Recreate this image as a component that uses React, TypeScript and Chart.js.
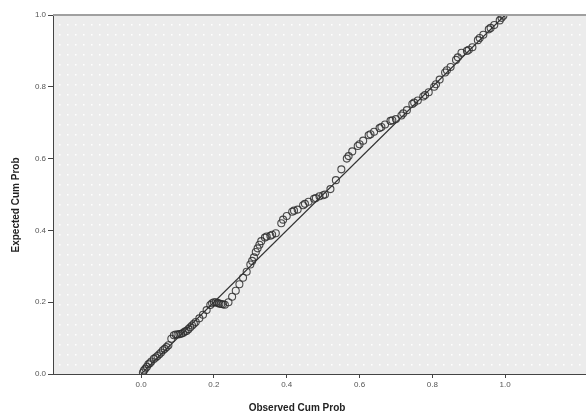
import { useEffect, useRef } from "react";
import { Chart, registerables } from "chart.js";
Chart.register(...registerables);

const observed = [
  0.005, 0.012, 0.02, 0.028, 0.035, 0.045, 0.055, 0.065, 0.075, 0.083,
  0.09, 0.1, 0.11, 0.12, 0.13, 0.14, 0.15, 0.16, 0.17, 0.18,
  0.19, 0.2, 0.21, 0.22, 0.23, 0.24, 0.25, 0.26, 0.27, 0.28,
  0.29, 0.3, 0.31, 0.32, 0.33, 0.34, 0.355, 0.37, 0.385, 0.4,
  0.415, 0.43, 0.445, 0.46, 0.475, 0.49, 0.505, 0.52, 0.535, 0.55,
  0.565, 0.58, 0.595, 0.61, 0.625, 0.64, 0.655, 0.67, 0.685, 0.7,
  0.715, 0.73, 0.745, 0.76, 0.775, 0.79, 0.805, 0.82, 0.835, 0.85,
  0.865, 0.88, 0.895, 0.91, 0.925, 0.94, 0.955, 0.97, 0.985, 0.995,
  0.008, 0.016, 0.024, 0.04, 0.05, 0.06, 0.07, 0.095, 0.105, 0.115,
  0.125, 0.135, 0.145, 0.195, 0.205, 0.215, 0.225, 0.305, 0.315, 0.325,
  0.345, 0.36, 0.39, 0.42, 0.45, 0.48, 0.5, 0.57, 0.6, 0.63,
  0.66, 0.69, 0.72, 0.75, 0.78, 0.81, 0.84, 0.87, 0.9, 0.93,
  0.96, 0.99,
];
const expected = [
  0.004, 0.015, 0.027, 0.035, 0.042, 0.05, 0.06, 0.07, 0.08, 0.098,
  0.108, 0.11, 0.112, 0.118, 0.125, 0.135, 0.145, 0.155, 0.165, 0.178,
  0.192, 0.2, 0.198, 0.195, 0.193, 0.2, 0.215, 0.232, 0.25, 0.268,
  0.285, 0.305, 0.325, 0.35, 0.37, 0.38, 0.385, 0.392, 0.42, 0.44,
  0.452, 0.458, 0.47, 0.48, 0.488, 0.495, 0.5, 0.515, 0.54, 0.57,
  0.6, 0.62, 0.635, 0.65, 0.665, 0.675, 0.685, 0.695, 0.705, 0.71,
  0.72, 0.735, 0.752, 0.762, 0.773, 0.785, 0.8, 0.82, 0.84, 0.855,
  0.875, 0.895, 0.9, 0.91, 0.93, 0.945, 0.96, 0.972, 0.985, 0.998,
  0.01, 0.02, 0.03, 0.046, 0.055, 0.066, 0.075, 0.11, 0.111, 0.114,
  0.12, 0.13, 0.14, 0.197, 0.2, 0.196, 0.194, 0.315, 0.34, 0.36,
  0.383, 0.388, 0.43, 0.455, 0.474, 0.49, 0.498, 0.607, 0.64, 0.668,
  0.688, 0.707, 0.726, 0.756, 0.777, 0.807, 0.846, 0.882, 0.903, 0.936,
  0.964, 0.992,
];
const refLineX = [0, 1];
const refLineY = [0, 1];
const tickValues = [0, 0.2, 0.4, 0.6, 0.8, 1.0];
const tickLabels = ["0.0", "0.2", "0.4", "0.6", "0.8", "1.0"];
const xTitle = "Observed Cum Prob";
const yTitle = "Expected Cum Prob";

function labelFor(v: number) {
  const i = tickValues.findIndex((t) => Math.abs(t - v) < 1e-6);
  return i >= 0 ? tickLabels[i] : "";
}

export default function App() {
  const ref = useRef<HTMLCanvasElement>(null);
  useEffect(() => {
    const canvas = ref.current!;
    const pc = document.createElement("canvas");
    pc.width = 8;
    pc.height = 10;
    const pctx = pc.getContext("2d")!;
    pctx.fillStyle = "#ececec";
    pctx.fillRect(0, 0, 8, 10);
    pctx.fillStyle = "#ffffff";
    pctx.fillRect(3, 4, 1.5, 1.5);
    const pattern = canvas.getContext("2d")!.createPattern(pc, "repeat");

    const bgPlugin = {
      id: "bg",
      beforeDraw(chart: any) {
        const { ctx, chartArea } = chart;
        ctx.save();
        ctx.fillStyle = pattern;
        ctx.fillRect(chartArea.left, chartArea.top, chartArea.right - chartArea.left, chartArea.bottom - chartArea.top);
        ctx.restore();
      },
      afterDraw(chart: any) {
        const { ctx, chartArea } = chart;
        ctx.save();
        ctx.strokeStyle = "#a0a0a0";
        ctx.lineWidth = 2;
        ctx.beginPath();
        ctx.moveTo(chartArea.left, chartArea.top);
        ctx.lineTo(chartArea.right, chartArea.top);
        ctx.stroke();
        ctx.fillStyle = "#222";
        ctx.font = "bold 10px Arial, 'Liberation Sans', sans-serif";
        ctx.textAlign = "center";
        ctx.textBaseline = "middle";
        ctx.fillText(xTitle, 297, 408);
        ctx.translate(16, 205);
        ctx.rotate(-Math.PI / 2);
        ctx.fillText(yTitle, 0, 0);
        ctx.restore();
      },
    };

    const chart = new Chart(canvas, {
      type: "scatter",
      data: {
        datasets: [
          {
            type: "line",
            data: refLineX.map((x, i) => ({ x, y: refLineY[i] })),
            borderColor: "#333",
            borderWidth: 1.2,
            pointRadius: 0,
            fill: false,
          } as any,
          {
            data: observed.map((x, i) => ({ x, y: expected[i] })),
            pointRadius: 3.5,
            pointBorderColor: "rgba(45,45,45,0.85)",
            pointBackgroundColor: "rgba(0,0,0,0)",
            pointBorderWidth: 1.1,
          },
        ],
      },
      options: {
        animation: false,
        responsive: false,
        layout: { autoPadding: false, padding: { top: 15, right: 0, left: 0, bottom: 0 } },
        plugins: { legend: { display: false }, tooltip: { enabled: false } },
        scales: {
          x: {
            type: "linear",
            min: -0.242,
            max: 1.222,
            afterBuildTicks: (s: any) => {
              s.ticks = tickValues.map((v) => ({ value: v }));
            },
            afterFit: (s: any) => {
              s.height = 42;
              s.paddingLeft = 0;
              s.paddingRight = 0;
            },
            ticks: {
              callback: (v: any) => labelFor(Number(v)),
              font: { size: 8, family: "Arial, 'Liberation Sans', sans-serif" },
              color: "#555",
              padding: 2,
              maxRotation: 0,
              autoSkip: false,
            },
            grid: { drawOnChartArea: false, drawTicks: true, tickLength: 4, color: "#444" },
            border: { color: "#444", width: 1 },
          },
          y: {
            min: 0,
            max: 1,
            afterBuildTicks: (s: any) => {
              s.ticks = tickValues.map((v) => ({ value: v }));
            },
            afterFit: (s: any) => {
              s.width = 53;
              s.paddingTop = 0;
              s.paddingBottom = 0;
            },
            ticks: {
              callback: (v: any) => labelFor(Number(v)),
              font: { size: 8, family: "Arial, 'Liberation Sans', sans-serif" },
              color: "#555",
              padding: 2,
              autoSkip: false,
            },
            grid: { drawOnChartArea: false, drawTicks: true, tickLength: 5, color: "#444" },
            border: { color: "#444", width: 1 },
          },
        },
      },
      plugins: [bgPlugin],
    } as any);
    return () => chart.destroy();
  }, []);
  return (
    <div style={{ position: "fixed", left: 0, top: 0, width: 586, height: 416, background: "#fff" }}>
      <canvas ref={ref} width={586} height={416} style={{ display: "block" }} />
    </div>
  );
}
